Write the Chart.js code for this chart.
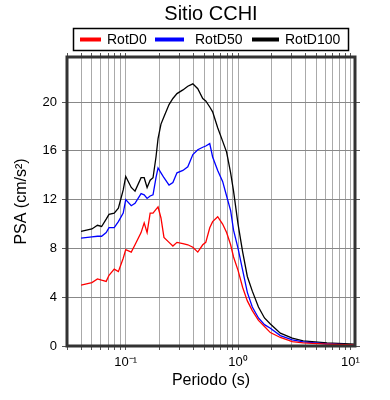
<!DOCTYPE html>
<html>
<head>
<meta charset="utf-8">
<script src="https://cdn.jsdelivr.net/npm/chart.js@4"></script>
<style>
  html, body { margin: 0; padding: 0; background: #fff; }
</style>
</head>
<body>
<canvas id="myChart" width="390" height="400"></canvas>
<script>
// periods (s) and spectral accelerations (cm/s2)
var periods = [0.04, 0.05, 0.056, 0.061, 0.067, 0.071, 0.079, 0.086, 0.095, 0.1,
  0.112, 0.121, 0.137, 0.146, 0.155, 0.165, 0.175, 0.186, 0.194, 0.206,
  0.219, 0.243, 0.263, 0.286, 0.323, 0.357, 0.396, 0.438, 0.485, 0.516,
  0.56, 0.594, 0.659, 0.729, 0.791, 0.859, 0.912, 1.0, 1.1, 1.21,
  1.34, 1.52, 1.72, 1.94, 2.38, 3.04, 3.8, 6.19, 11];

var rotD0 = [5.0, 5.2, 5.5, 5.4, 5.3, 5.8, 6.3, 6.1, 7.2, 7.9,
  7.7, 8.3, 9.3, 10.1, 9.3, 10.9, 10.9, 11.2, 11.4, 10.5,
  8.9, 8.5, 8.2, 8.5, 8.4, 8.3, 8.1, 7.7, 8.3, 8.5,
  9.7, 10.2, 10.6, 10.0, 9.3, 8.3, 7.3, 6.2, 4.8, 3.7,
  2.9, 2.1, 1.6, 1.1, 0.7, 0.35, 0.25, 0.15, 0.08];

var rotD50 = [8.85, 8.95, 9.0, 9.0, 9.3, 9.7, 9.7, 10.2, 10.9, 12.0,
  11.5, 11.7, 12.5, 12.4, 12.1, 12.3, 12.4, 13.8, 14.6, 14.2,
  13.8, 13.2, 13.4, 14.2, 14.4, 14.7, 15.7, 16.1, 16.3, 16.4,
  16.6, 15.5, 14.4, 13.5, 12.3, 11.1, 9.5, 8.0, 6.2, 4.4,
  3.2, 2.3, 1.75, 1.45, 0.85, 0.5, 0.33, 0.17, 0.1];

var rotD100 = [9.4, 9.6, 9.9, 9.8, 10.4, 10.8, 10.9, 11.3, 12.8, 13.9,
  13.0, 12.7, 13.8, 13.8, 13.0, 13.6, 13.8, 15.5, 17.0, 18.2,
  18.8, 19.8, 20.3, 20.7, 21.0, 21.3, 21.5, 21.1, 20.3, 20.1,
  19.6, 19.2, 17.9, 16.8, 15.9, 14.2, 12.7, 10.0, 7.7, 5.7,
  4.5, 3.2, 2.3, 1.8, 1.05, 0.65, 0.42, 0.25, 0.15];

var xTicks = [0.03, 0.04, 0.05, 0.06, 0.07, 0.08, 0.09,
  0.1, 0.2, 0.3, 0.4, 0.5, 0.6, 0.7, 0.8, 0.9,
  1, 2, 3, 4, 5, 6, 7, 8, 9, 10];
var xLabels = { 0.1: "10\u207B\u00B9", 1: "10\u2070", 10: "10\u00B9" };
var yTicks = [0, 4, 8, 12, 16, 20];

function toPoints(vals) {
  return periods.map(function (p, i) {
    return { x: p, y: vals[i] };
  });
}

Chart.defaults.font.family = "Liberation Sans";
Chart.defaults.color = "#000";

// frame round the plot plus the boxed legend on top
var framePlugin = {
  id: "frame",
  afterDraw: function (chart) {
    var ctx = chart.ctx;
    var a = chart.chartArea;
    ctx.save();
    ctx.strokeStyle = "#333";
    ctx.lineWidth = 3;
    ctx.strokeRect(a.left, a.top, a.right - a.left, a.bottom - a.top);

    ctx.strokeStyle = "#000";
    ctx.lineWidth = 1.5;
    ctx.strokeRect(73.5, 28.5, 275, 22);
    var slots = [[80, 101, 107], [155, 184, 195], [252, 279, 285]];
    ctx.font = '14px "Liberation Sans"';
    ctx.textBaseline = "middle";
    ctx.fillStyle = "#000";
    chart.data.datasets.forEach(function (ds, i) {
      var s = slots[i];
      ctx.strokeStyle = ds.borderColor;
      ctx.lineWidth = 4;
      ctx.beginPath();
      ctx.moveTo(s[0], 39.5);
      ctx.lineTo(s[1], 39.5);
      ctx.stroke();
      ctx.fillText(ds.label, s[2], 40);
    });
    ctx.restore();
  }
};

var ctx = document.getElementById("myChart").getContext("2d");

var myChart = new Chart(ctx, {
  type: "line",
  data: {
    datasets: [
      { label: "RotD0", data: toPoints(rotD0), borderColor: "#ff0000" },
      { label: "RotD50", data: toPoints(rotD50), borderColor: "#0000ff" },
      { label: "RotD100", data: toPoints(rotD100), borderColor: "#000000" }
    ]
  },
  options: {
    responsive: false,
    animation: false,
    elements: {
      point: { radius: 0 },
      line: { borderWidth: 1.3, tension: 0 }
    },
    plugins: {
      legend: { display: false },
      tooltip: { enabled: false },
      title: {
        display: true,
        text: "Sitio CCHI",
        fullSize: false,
        font: { size: 20, weight: "normal" },
        padding: { top: 2, bottom: 26 }
      }
    },
    scales: {
      x: {
        type: "logarithmic",
        position: "bottom",
        min: 0.03,
        max: 11,
        afterBuildTicks: function (scale) {
          scale.ticks = xTicks.map(function (v) { return { value: v }; });
        },
        afterFit: function (scale) { scale.height = 54; },
        border: { display: false },
        grid: { color: "#aaaaaa", tickColor: "#555", tickLength: 4 },
        ticks: {
          autoSkip: false,
          maxRotation: 0,
          padding: 5,
          font: { size: 13 },
          callback: function (value) { return xLabels[value] || ""; }
        },
        title: {
          display: true,
          text: "Periodo (s)",
          font: { size: 16 },
          padding: { top: 0, bottom: 10 }
        }
      },
      x2: {
        type: "logarithmic",
        position: "top",
        min: 0.03,
        max: 11,
        afterBuildTicks: function (scale) {
          scale.ticks = xTicks.map(function (v) { return { value: v }; });
        },
        afterFit: function (scale) { scale.height = 5; },
        border: { display: false },
        grid: { drawOnChartArea: false, tickColor: "#555", tickLength: 4 },
        ticks: { display: false }
      },
      y: {
        position: "left",
        min: 0,
        max: 23.7,
        afterBuildTicks: function (scale) {
          scale.ticks = yTicks.map(function (v) { return { value: v }; });
        },
        afterFit: function (scale) { scale.width = 67; },
        border: { display: false },
        grid: { color: "#888888", tickColor: "#555", tickLength: 5 },
        ticks: { padding: 5, font: { size: 13 } },
        title: {
          display: true,
          text: "PSA (cm/s\u00B2)",
          font: { size: 16 },
          padding: { top: 12, bottom: 0 }
        }
      },
      y2: {
        position: "right",
        min: 0,
        max: 23.7,
        afterBuildTicks: function (scale) {
          scale.ticks = yTicks.map(function (v) { return { value: v }; });
        },
        afterFit: function (scale) { scale.width = 35; },
        border: { display: false },
        grid: { drawOnChartArea: false, tickColor: "#555", tickLength: 5 },
        ticks: { display: false }
      }
    }
  },
  plugins: [framePlugin]
});
</script>
</body>
</html>
